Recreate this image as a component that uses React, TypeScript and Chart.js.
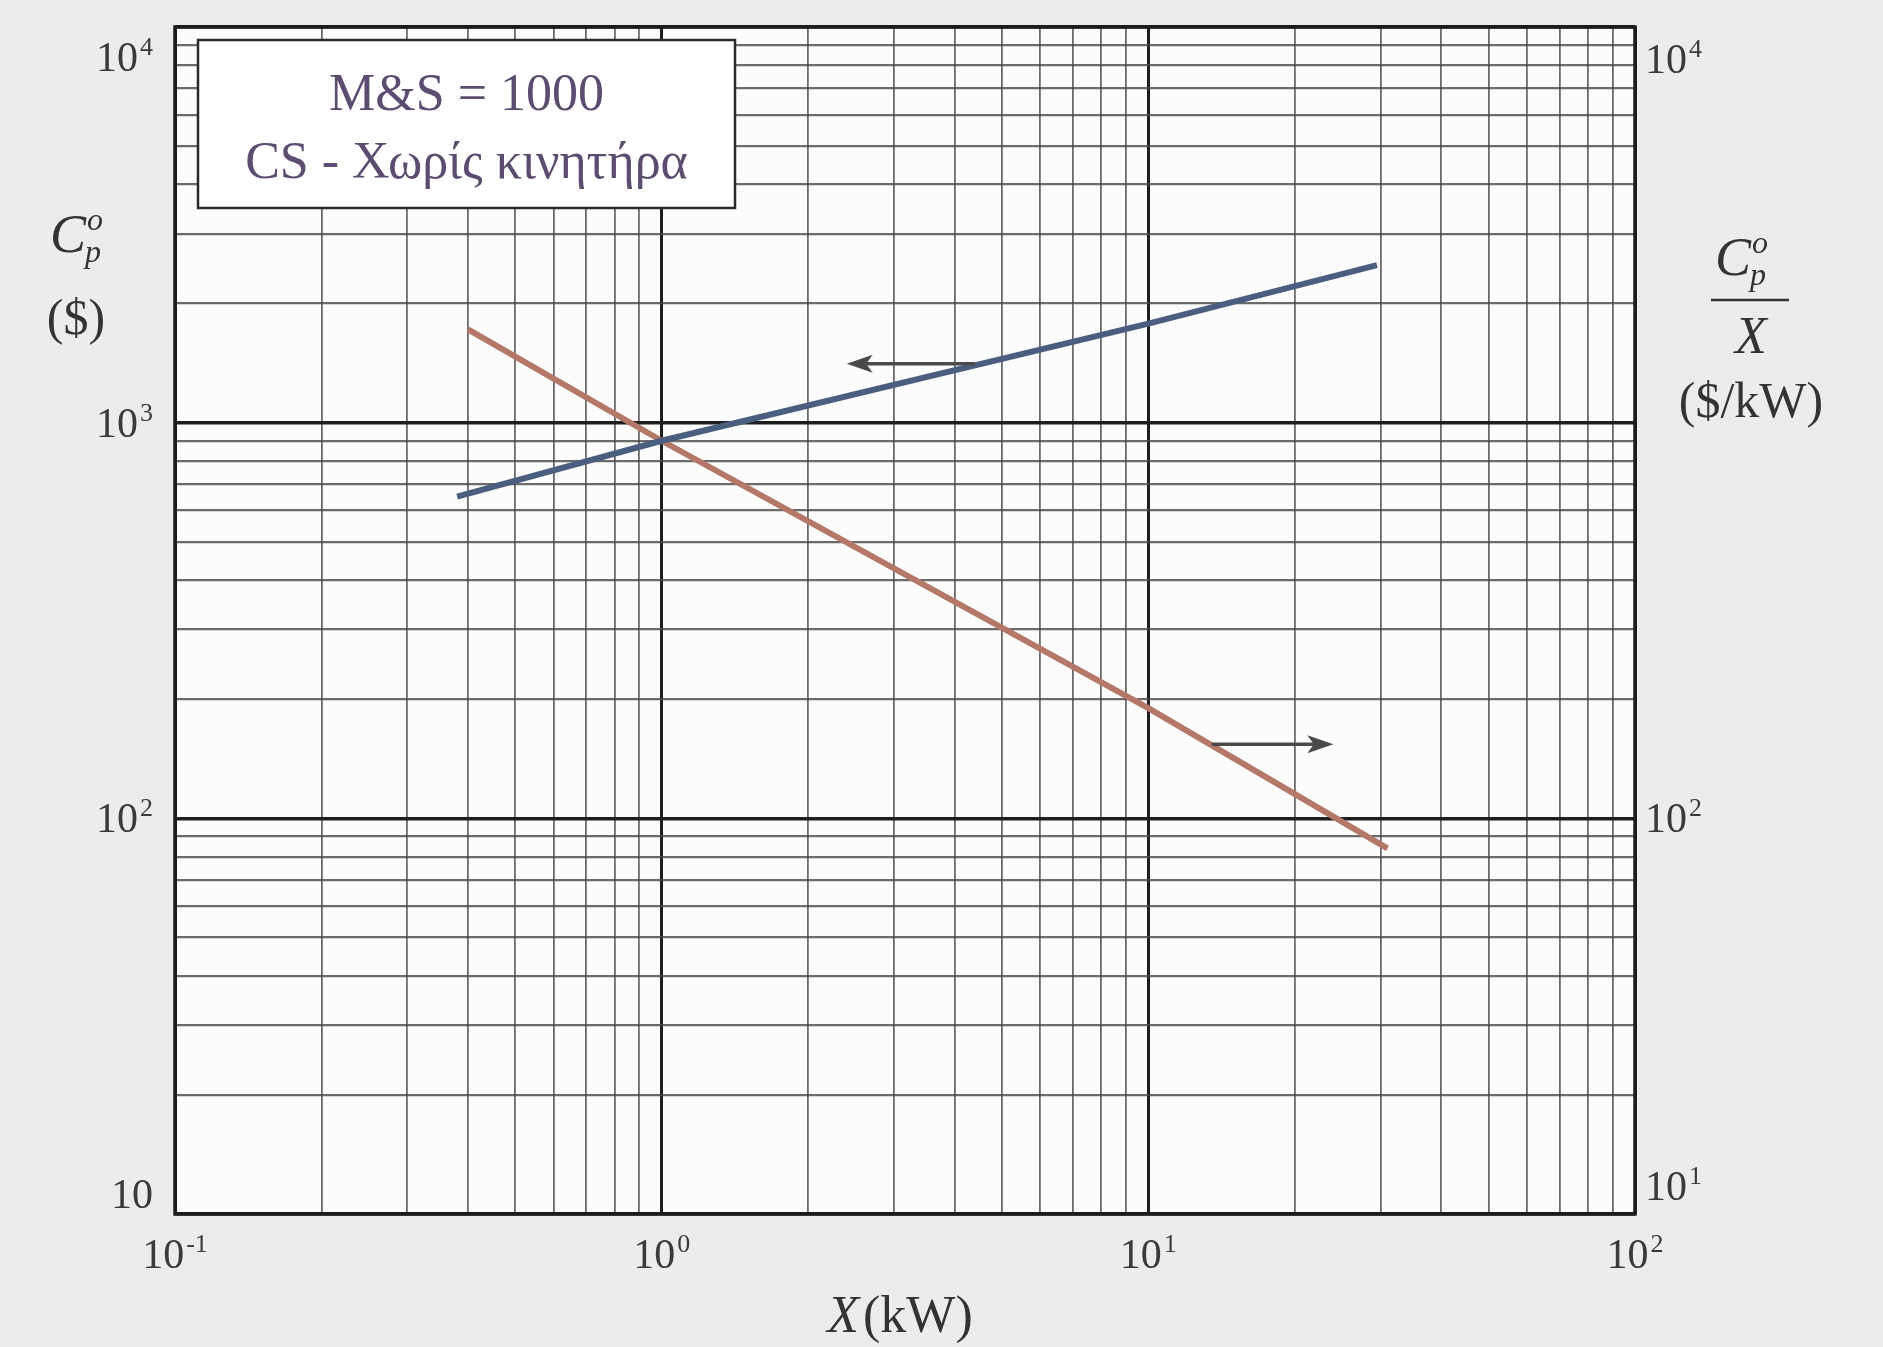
import React, { useEffect, useRef } from "react";
import { Chart, registerables } from "chart.js";

Chart.register(...registerables);

// ---------------- data ----------------
const blueX = [0.38, 1, 10, 29.5];
const blueY = [650, 900, 1780, 2500];
const redX = [0.4, 1, 10, 31];
const redY = [1720, 900, 190, 84];

const xMin = 0.1;
const xMax = 100;
const yMin = 10;
const yMax = 10000;

const xTickValues = [0.1, 1, 10, 100];
const xTickExp = ["-1", "0", "1", "2"];
const leftTickValues = [10, 100, 1000, 10000];
const leftTickExp = ["", "2", "3", "4"];
const rightTickValues = [10, 100, 10000];
const rightTickExp = ["1", "2", "4"];
const mantissas = [1, 2, 3, 4, 5, 6, 7, 8, 9];

const blueArrowX = [4.4, 2.4];
const blueArrowY = 1410;
const redArrowX = [13.5, 24];
const redArrowY = 154;

const boxLines = ["M&S = 1000", "CS - Χωρίς κινητήρα"];

// ---------------- helpers ----------------
const SERIF = '"Liberation Serif", "Times New Roman", serif';

function gridTicks(min: number, max: number) {
  const out: { value: number; major: boolean }[] = [];
  const e0 = Math.round(Math.log10(min));
  const e1 = Math.round(Math.log10(max));
  for (let e = e0; e < e1; e++) {
    for (const m of mantissas) {
      out.push({ value: parseFloat((m * Math.pow(10, e)).toPrecision(6)), major: m === 1 });
    }
  }
  out.push({ value: max, major: true });
  return out;
}

function drawPow(
  ctx: CanvasRenderingContext2D,
  base: string,
  exp: string,
  x: number,
  cy: number,
  align: "left" | "right" | "center",
  baseSize = 42,
  expSize = 26
) {
  ctx.font = `${baseSize}px ${SERIF}`;
  const wb = ctx.measureText(base).width;
  ctx.font = `${expSize}px ${SERIF}`;
  const we = exp ? ctx.measureText(exp).width + 2 : 0;
  const total = wb + we;
  const x0 = align === "right" ? x - total : align === "center" ? x - total / 2 : x;
  const baseline = cy + baseSize * 0.33;
  ctx.textAlign = "left";
  ctx.textBaseline = "alphabetic";
  ctx.font = `${baseSize}px ${SERIF}`;
  ctx.fillText(base, x0, baseline);
  if (exp) {
    ctx.font = `${expSize}px ${SERIF}`;
    ctx.fillText(exp, x0 + wb + 2, baseline - baseSize * 0.38);
  }
}

function drawArrow(ctx: CanvasRenderingContext2D, x1: number, y1: number, x2: number, y2: number) {
  const dir = Math.sign(x2 - x1) || 1;
  const head = 26;
  ctx.save();
  ctx.strokeStyle = "#4a4a4a";
  ctx.fillStyle = "#4a4a4a";
  ctx.lineWidth = 3.5;
  ctx.beginPath();
  ctx.moveTo(x1, y1);
  ctx.lineTo(x2 - dir * head * 0.7, y2);
  ctx.stroke();
  ctx.beginPath();
  ctx.moveTo(x2, y2);
  ctx.lineTo(x2 - dir * head, y2 - 9);
  ctx.lineTo(x2 - dir * head * 0.75, y2);
  ctx.lineTo(x2 - dir * head, y2 + 9);
  ctx.closePath();
  ctx.fill();
  ctx.restore();
}

const decorPlugin = {
  id: "decor",
  beforeDraw(chart: any) {
    const { ctx, chartArea: a, width, height } = chart;
    ctx.save();
    ctx.fillStyle = "#ececec";
    ctx.fillRect(0, 0, width, height);
    ctx.fillStyle = "#fcfcfc";
    ctx.fillRect(a.left, a.top, a.right - a.left, a.bottom - a.top);
    ctx.restore();
  },
  afterDraw(chart: any) {
    const { ctx, chartArea: a } = chart;
    const xs = chart.scales.x;
    const ys = chart.scales.y;
    const ys2 = chart.scales.y2;
    ctx.save();

    // frame
    ctx.strokeStyle = "#1c1c1c";
    ctx.lineWidth = 3.5;
    ctx.strokeRect(a.left, a.top, a.right - a.left, a.bottom - a.top);

    // arrows
    drawArrow(
      ctx,
      xs.getPixelForValue(blueArrowX[0]),
      ys.getPixelForValue(blueArrowY),
      xs.getPixelForValue(blueArrowX[1]),
      ys.getPixelForValue(blueArrowY)
    );
    drawArrow(
      ctx,
      xs.getPixelForValue(redArrowX[0]),
      ys2.getPixelForValue(redArrowY),
      xs.getPixelForValue(redArrowX[1]),
      ys2.getPixelForValue(redArrowY)
    );

    // box
    const bx = a.left + 23;
    const by = a.top + 13;
    const bw = 537;
    const bh = 168;
    ctx.fillStyle = "#ffffff";
    ctx.fillRect(bx, by, bw, bh);
    ctx.strokeStyle = "#2a2a2a";
    ctx.lineWidth = 2.5;
    ctx.strokeRect(bx, by, bw, bh);
    ctx.fillStyle = "#5c4d70";
    ctx.font = `52px ${SERIF}`;
    ctx.textAlign = "center";
    ctx.textBaseline = "alphabetic";
    ctx.fillText(boxLines[0], bx + bw / 2, by + 70);
    ctx.fillText(boxLines[1], bx + bw / 2, by + 138);

    // tick labels
    ctx.fillStyle = "#3a3a3a";
    leftTickValues.forEach((v, i) => {
      let cy = ys.getPixelForValue(v);
      cy = Math.min(Math.max(cy, a.top + 30), a.bottom - 20);
      drawPow(ctx, "10", leftTickExp[i], a.left - 22, cy, "right");
    });
    rightTickValues.forEach((v, i) => {
      let cy = ys2.getPixelForValue(v);
      cy = Math.min(Math.max(cy, a.top + 32), a.bottom - 28);
      drawPow(ctx, "10", rightTickExp[i], a.right + 10, cy, "left");
    });
    xTickValues.forEach((v, i) => {
      const cx = xs.getPixelForValue(v);
      drawPow(ctx, "10", xTickExp[i], cx, a.bottom + 40, "center");
    });

    // x title
    ctx.fillStyle = "#333333";
    ctx.font = `italic 52px ${SERIF}`;
    const wX = ctx.measureText("X").width;
    ctx.font = `52px ${SERIF}`;
    const wRest = ctx.measureText("(kW)").width;
    const tx = (a.left + a.right) / 2 - 5 - (wX + wRest + 4) / 2;
    const tby = a.bottom + 118;
    ctx.textAlign = "left";
    ctx.font = `italic 52px ${SERIF}`;
    ctx.fillText("X", tx, tby);
    ctx.font = `52px ${SERIF}`;
    ctx.fillText("(kW)", tx + wX + 4, tby);

    // left title: C_p^o ($)
    const drawCp = (x: number, baseline: number) => {
      ctx.textAlign = "left";
      ctx.font = `italic 54px ${SERIF}`;
      ctx.fillText("C", x, baseline);
      const wc = ctx.measureText("C").width;
      ctx.font = `italic 32px ${SERIF}`;
      ctx.fillText("o", x + wc + 1, baseline - 22);
      ctx.fillText("p", x + wc - 1, baseline + 10);
    };
    drawCp(a.left - 125, a.top + 225);
    ctx.font = `50px ${SERIF}`;
    ctx.textAlign = "center";
    ctx.fillText("($)", a.left - 99, a.top + 307);

    // right title: C_p^o / X ($/kW)
    const rcx = a.right + 118;
    drawCp(rcx - 38, a.top + 248);
    ctx.strokeStyle = "#333333";
    ctx.lineWidth = 2.5;
    ctx.beginPath();
    ctx.moveTo(rcx - 42, a.top + 273);
    ctx.lineTo(rcx + 36, a.top + 273);
    ctx.stroke();
    ctx.textAlign = "center";
    ctx.font = `italic 52px ${SERIF}`;
    ctx.fillText("X", rcx - 2, a.top + 326);
    ctx.font = `50px ${SERIF}`;
    ctx.fillText("($/kW)", rcx - 2, a.top + 390);

    ctx.restore();
  },
};

export default function App() {
  const ref = useRef<HTMLCanvasElement | null>(null);

  useEffect(() => {
    if (!ref.current) return;
    const minorColor = "rgba(70,70,70,0.8)";
    const majorColor = "#1e1e1e";
    const chart = new Chart(ref.current, {
      type: "line",
      data: {
        datasets: [
          {
            label: "Cp",
            data: blueX.map((x, i) => ({ x, y: blueY[i] })),
            borderColor: "#4a5f80",
            borderWidth: 6,
            pointRadius: 0,
            tension: 0,
            yAxisID: "y",
          },
          {
            label: "Cp/X",
            data: redX.map((x, i) => ({ x, y: redY[i] })),
            borderColor: "#b57868",
            borderWidth: 6,
            pointRadius: 0,
            tension: 0,
            yAxisID: "y2",
          },
        ],
      },
      options: {
        responsive: false,
        animation: false,
        layout: { padding: { left: 175, right: 248, top: 27, bottom: 133 } },
        plugins: { legend: { display: false }, tooltip: { enabled: false }, title: { display: false } },
        scales: {
          x: {
            type: "logarithmic",
            min: xMin,
            max: xMax,
            ticks: { display: false },
            border: { display: false },
            grid: {
              drawTicks: false,
              color: (c: any) => (c.tick && c.tick.major ? majorColor : minorColor),
              lineWidth: (c: any) => (c.tick && c.tick.major ? 3 : 1.8),
            },
            afterBuildTicks: (s: any) => {
              s.ticks = gridTicks(xMin, xMax);
            },
            afterFit: (s: any) => {
              s.height = 0;
            },
          },
          y: {
            type: "logarithmic",
            position: "left",
            min: yMin,
            max: yMax,
            ticks: { display: false },
            border: { display: false },
            grid: {
              drawTicks: false,
              color: (c: any) => (c.tick && c.tick.major ? majorColor : minorColor),
              lineWidth: (c: any) => (c.tick && c.tick.major ? 3.5 : 2.2),
            },
            afterBuildTicks: (s: any) => {
              s.ticks = gridTicks(yMin, yMax);
            },
            afterFit: (s: any) => {
              s.width = 0;
            },
          },
          y2: {
            type: "logarithmic",
            position: "right",
            min: yMin,
            max: yMax,
            ticks: { display: false },
            border: { display: false },
            grid: { display: false, drawTicks: false },
            afterFit: (s: any) => {
              s.width = 0;
            },
          },
        },
      } as any,
      plugins: [decorPlugin],
    });
    return () => chart.destroy();
  }, []);

  return (
    <div style={{ position: "absolute", left: 0, top: 0, width: 1883, height: 1347 }}>
      <canvas ref={ref} width={1883} height={1347} style={{ display: "block" }} />
    </div>
  );
}
